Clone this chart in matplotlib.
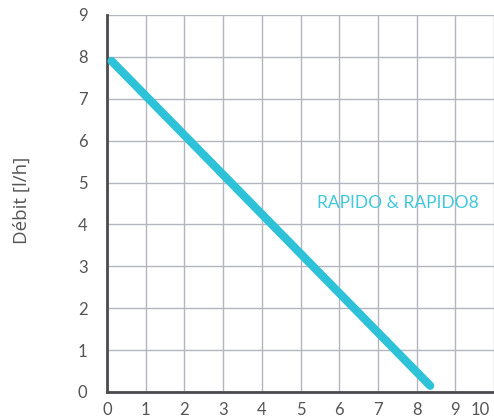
import matplotlib.pyplot as plt
import matplotlib.transforms as mtransforms

# data
line_x = [0.12, 8.35]
line_y = [7.9, 0.15]
x_ticks = [0, 1, 2, 3, 4, 5, 6, 7, 8, 9, 10]
y_ticks = [0, 1, 2, 3, 4, 5, 6, 7, 8, 9]
series_label = "RAPIDO & RAPIDO8"
y_label = "Débit [l/h]"

fig = plt.figure(figsize=(4.94, 4.2), dpi=100)
ax = fig.add_axes([0.2166, 0.0667, 0.7834, 0.8976])

ax.set_xlim(0, 10)
ax.set_ylim(0, 9)

# grid
ax.set_xticks(x_ticks)
ax.set_yticks(y_ticks)
ax.grid(True, color='#b3b6be', linewidth=1.0, zorder=0)
ax.set_axisbelow(True)

for side in ['top', 'right']:
    ax.spines[side].set_visible(False)
for side in ['left', 'bottom']:
    ax.spines[side].set_color('#4a4a4f')
    ax.spines[side].set_linewidth(2)

ax.tick_params(length=0, labelsize=12, labelcolor='#555555')
ax.tick_params(axis='x', pad=7)
ax.tick_params(axis='y', pad=14)
for lbl in ax.get_xticklabels() + ax.get_yticklabels():
    lbl.set_fontfamily('Lato')

# shift the last x label so it stays inside the image
xl = ax.get_xticklabels()
off = mtransforms.ScaledTranslation(-14 / 100, 0, fig.dpi_scale_trans)
xl[-1].set_transform(xl[-1].get_transform() + off)

ax.plot(line_x, line_y, color='#2ec2d8', linewidth=6, solid_capstyle='round',
        zorder=3, clip_on=False)

ax.text(7.52, 4.52, series_label, color='#3fc7dc', fontsize=12.5,
        family='Lato', ha='center', va='center')

fig.text(0.045, 0.524, y_label, rotation=90, color='#555555', fontsize=13.5,
         family='Open Sans', ha='center', va='center')

fig.savefig('out.png', dpi=100)
